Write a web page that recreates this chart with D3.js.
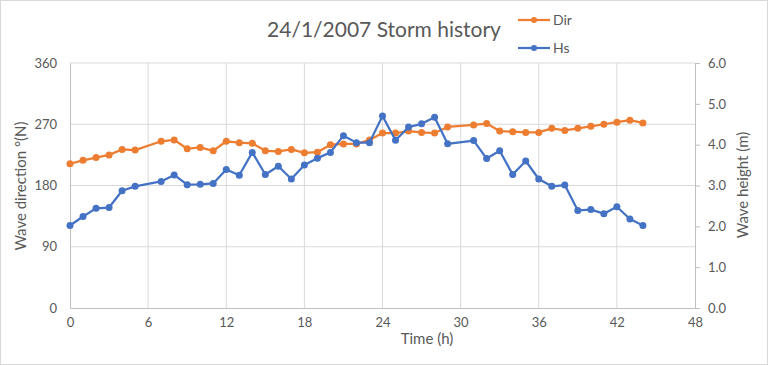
<!DOCTYPE html>
<html>
<head>
<meta charset="utf-8">
<script src="https://cdn.jsdelivr.net/npm/d3@7"></script>
<style>
body { margin: 0; background: #fff; }
svg { display: block; font-family: Lato, "Open Sans", sans-serif; }
</style>
</head>
<body>
<script>
var hours = [0, 1, 2, 3, 4, 5, 7, 8, 9, 10, 11, 12, 13, 14, 15, 16, 17, 18, 19, 20, 21, 22, 23, 24, 25, 26, 27, 28, 29,
    31, 32, 33, 34, 35, 36, 37, 38, 39, 40, 41, 42, 43, 44];
var dir = [212, 217, 221, 225, 233, 232, 245, 247, 234, 236, 231, 245, 243, 242, 231, 230, 233, 228, 229, 240, 241, 241, 247, 257, 257, 260, 258, 257, 266,
    269, 271, 260, 259, 258, 258, 264, 261, 264, 267, 270, 273, 276, 272];
var hs = [2.02, 2.24, 2.44, 2.46, 2.87, 2.98, 3.10, 3.26, 3.02, 3.03, 3.05, 3.39, 3.25, 3.81, 3.27, 3.47, 3.16, 3.50, 3.67, 3.81, 4.22, 4.05, 4.05, 4.70, 4.11, 4.43, 4.51, 4.67, 4.02,
    4.10, 3.66, 3.85, 3.27, 3.60, 3.16, 2.98, 3.01, 2.39, 2.41, 2.31, 2.48, 2.18, 2.02];

var xTicks = [0, 6, 12, 18, 24, 30, 36, 42, 48];
var dirTicks = [0, 90, 180, 270, 360];
var hsTicks = [0, 1, 2, 3, 4, 5, 6];

var width = 768, height = 365;
var plotLeft = 70, plotRight = 695, plotTop = 63, plotBottom = 308;
var textColor = "#595959";

var svg = d3.select("body")
    .append("svg")
    .attr("width", width)
    .attr("height", height);

// chart border
svg.append("rect")
    .attr("x", 0.5).attr("y", 0.5)
    .attr("width", width - 1).attr("height", height - 1)
    .attr("fill", "white")
    .attr("stroke", "#d9d9d9");

var x = d3.scaleLinear().domain([0, 48]).range([plotLeft, plotRight]);
var yDir = d3.scaleLinear().domain([0, 360]).range([plotBottom, plotTop]);
var yHs = d3.scaleLinear().domain([0, 6]).range([plotBottom, plotTop]);

// gridlines
svg.append("g")
    .selectAll("line")
    .data(dirTicks.slice(1))
    .enter()
    .append("line")
    .attr("x1", plotLeft).attr("x2", plotRight)
    .attr("y1", function (d) { return yDir(d); })
    .attr("y2", function (d) { return yDir(d); })
    .attr("stroke", "#d9d9d9")
    .attr("stroke-width", 1);

svg.append("g")
    .selectAll("line")
    .data(xTicks.slice(1, -1))
    .enter()
    .append("line")
    .attr("x1", function (d) { return x(d); })
    .attr("x2", function (d) { return x(d); })
    .attr("y1", plotTop).attr("y2", plotBottom)
    .attr("stroke", "#d9d9d9")
    .attr("stroke-width", 1);

// axes
var axisBottom = svg.append("g")
    .attr("transform", "translate(0," + plotBottom + ")")
    .call(d3.axisBottom(x).tickValues(xTicks).tickSize(0).tickPadding(12));

var axisLeft = svg.append("g")
    .attr("transform", "translate(" + plotLeft + ",0)")
    .call(d3.axisLeft(yDir).tickValues(dirTicks).tickSize(0).tickPadding(13));

var axisRight = svg.append("g")
    .attr("transform", "translate(" + plotRight + ",0)")
    .call(d3.axisRight(yHs).tickValues(hsTicks).tickSize(5).tickPadding(8)
        .tickFormat(d3.format(".1f")));

[axisBottom, axisLeft, axisRight].forEach(function (g) {
    g.select(".domain").attr("stroke", "#bfbfbf").attr("stroke-width", 1);
    g.selectAll(".tick line").attr("stroke", "#bfbfbf");
    g.selectAll("text")
        .attr("fill", textColor)
        .style("font-size", "13px")
        .style("font-family", "Lato, 'Open Sans', sans-serif");
});
axisBottom.selectAll(".tick text").attr("dy", "0.5em");

// series
function drawSeries(values, yScale, color) {
    var line = d3.line()
        .x(function (d, i) { return x(hours[i]); })
        .y(function (d) { return yScale(d); });

    svg.append("path")
        .datum(values)
        .attr("d", line)
        .attr("fill", "none")
        .attr("stroke", color)
        .attr("stroke-width", 2.25)
        .attr("stroke-linejoin", "round");

    svg.append("g")
        .selectAll("circle")
        .data(values)
        .enter()
        .append("circle")
        .attr("cx", function (d, i) { return x(hours[i]); })
        .attr("cy", function (d) { return yScale(d); })
        .attr("r", 3.5)
        .attr("fill", color);
}

drawSeries(dir, yDir, "#ED7D31");
drawSeries(hs, yHs, "#4472C4");

// title
svg.append("text")
    .attr("x", 384)
    .attr("y", 37)
    .attr("text-anchor", "middle")
    .attr("fill", textColor)
    .style("font-size", "21px")
    .text("24/1/2007 Storm history");

// axis titles
svg.append("text")
    .attr("x", 427)
    .attr("y", 344)
    .attr("text-anchor", "middle")
    .attr("fill", textColor)
    .style("font-size", "15px")
    .text("Time (h)");

svg.append("text")
    .attr("transform", "translate(26,186) rotate(-90)")
    .attr("text-anchor", "middle")
    .attr("fill", textColor)
    .style("font-size", "15px")
    .text("Wave direction °(N)");

svg.append("text")
    .attr("transform", "translate(748,185) rotate(-90)")
    .attr("text-anchor", "middle")
    .attr("fill", textColor)
    .style("font-size", "15px")
    .text("Wave height (m)");

// legend
var legend = [
    { name: "Dir", color: "#ED7D31", y: 20 },
    { name: "Hs", color: "#4472C4", y: 48 }
];
var lg = svg.append("g")
    .selectAll("g")
    .data(legend)
    .enter()
    .append("g");
lg.append("line")
    .attr("x1", 518).attr("x2", 550)
    .attr("y1", function (d) { return d.y; })
    .attr("y2", function (d) { return d.y; })
    .attr("stroke", function (d) { return d.color; })
    .attr("stroke-width", 2.25);
lg.append("circle")
    .attr("cx", 534)
    .attr("cy", function (d) { return d.y; })
    .attr("r", 3)
    .attr("fill", function (d) { return d.color; });
lg.append("text")
    .attr("x", 553)
    .attr("y", function (d) { return d.y + 5; })
    .attr("fill", textColor)
    .style("font-size", "14px")
    .text(function (d) { return d.name; });
</script>
</body>
</html>
